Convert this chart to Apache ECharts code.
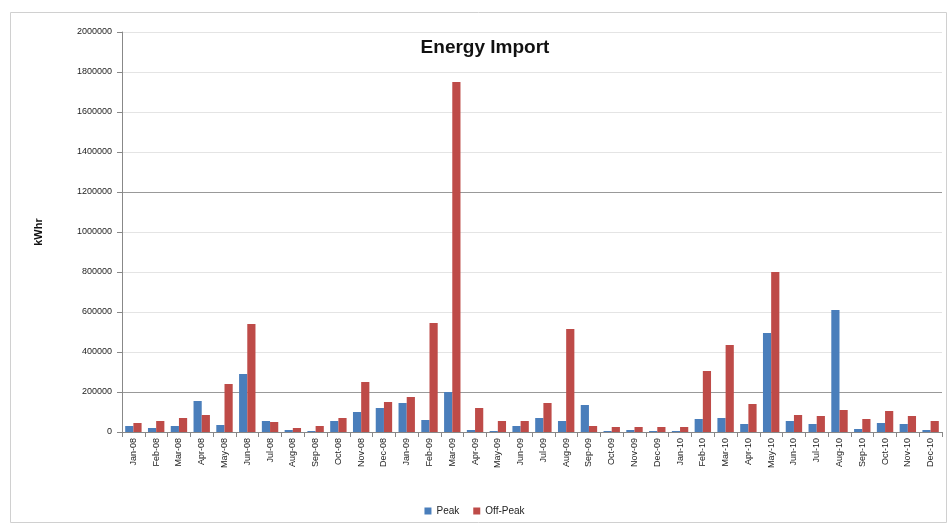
<!DOCTYPE html>
<html>
<head>
<meta charset="utf-8">
<script src="https://cdn.jsdelivr.net/npm/echarts@6/dist/echarts.min.js"></script>
<style>
html, body { margin: 0; padding: 0; background: #fff; }
#chartDiv { width: 949px; height: 527px; }
</style>
</head>
<body>
<div id="chartDiv"></div>
<script>
var months = ["Jan-08", "Feb-08", "Mar-08", "Apr-08", "May-08", "Jun-08", "Jul-08", "Aug-08", "Sep-08", "Oct-08", "Nov-08", "Dec-08",
	"Jan-09", "Feb-09", "Mar-09", "Apr-09", "May-09", "Jun-09", "Jul-09", "Aug-09", "Sep-09", "Oct-09", "Nov-09", "Dec-09",
	"Jan-10", "Feb-10", "Mar-10", "Apr-10", "May-10", "Jun-10", "Jul-10", "Aug-10", "Sep-10", "Oct-10", "Nov-10", "Dec-10"];

var peak = [30000, 20000, 30000, 155000, 35000, 290000, 55000, 10000, 5000, 55000, 100000, 120000,
	145000, 60000, 200000, 10000, 5000, 30000, 70000, 55000, 135000, 5000, 10000, 5000,
	5000, 65000, 70000, 40000, 495000, 55000, 40000, 610000, 15000, 45000, 40000, 10000];

var offPeak = [45000, 55000, 70000, 85000, 240000, 540000, 50000, 20000, 30000, 70000, 250000, 150000,
	175000, 545000, 1750000, 120000, 55000, 55000, 145000, 515000, 30000, 25000, 25000, 25000,
	25000, 305000, 435000, 140000, 800000, 85000, 80000, 110000, 65000, 105000, 80000, 55000];

var seriesNames = ["Peak", "Off-Peak"];

var chart = echarts.init(document.getElementById('chartDiv'));

// light grid, with the two heavier lines as in the picture
var gridColors = ['#e4e4e4', '#999999', '#e4e4e4', '#e4e4e4', '#e4e4e4', '#e4e4e4', '#999999', '#e4e4e4', '#e4e4e4', '#e4e4e4', '#e4e4e4'];

chart.setOption({
	backgroundColor : '#fff',
	animation : false,
	title : {
		text : 'Energy Import',
		left : 480,
		top : 33,
		textAlign : 'center',
		textStyle : { fontFamily : 'Liberation Sans', fontSize : 19, fontWeight : 'bold', color : '#111' }
	},
	legend : {
		data : seriesNames,
		bottom : 6,
		left : 'center',
		itemWidth : 7,
		itemHeight : 7,
		itemGap : 14,
		icon : 'rect',
		textStyle : { fontFamily : 'Liberation Sans', fontSize : 10, color : '#222' }
	},
	grid : { left : 122, right : 7, top : 32, bottom : 95 },
	xAxis : {
		type : 'category',
		data : months,
		axisLine : { lineStyle : { color : '#888' } },
		axisTick : { show : true, alignWithLabel : false, lineStyle : { color : '#888' } },
		axisLabel : { rotate : 90, interval : 0, fontFamily : 'Liberation Sans', fontSize : 9, color : '#222', margin : 6 }
	},
	yAxis : {
		type : 'value',
		min : 0,
		max : 2000000,
		interval : 200000,
		name : 'kWhr',
		nameLocation : 'middle',
		nameGap : 78,
		nameTextStyle : { fontFamily : 'Liberation Sans', fontSize : 11, fontWeight : 'bold', color : '#111' },
		axisLine : { show : true, lineStyle : { color : '#888' } },
		axisTick : { show : true, length : 5, lineStyle : { color : '#888' } },
		axisLabel : {
			fontFamily : 'Liberation Sans', fontSize : 9, color : '#222', margin : 10,
			formatter : function(v) { return String(v); }
		},
		splitLine : { show : true, lineStyle : { color : gridColors, width : 1 } }
	},
	series : [ {
		name : seriesNames[0],
		type : 'bar',
		data : peak,
		barGap : '0%',
		barCategoryGap : '28%',
		itemStyle : { color : '#4a7ebb' }
	}, {
		name : seriesNames[1],
		type : 'bar',
		data : offPeak,
		itemStyle : { color : '#be4b48' }
	} ],
	graphic : [ {
		type : 'rect',
		shape : { x : 10.5, y : 12.5, width : 936, height : 510 },
		style : { fill : 'none', stroke : '#d0d0d0', lineWidth : 1 },
		silent : true
	} ]
});
</script>
</body>
</html>
